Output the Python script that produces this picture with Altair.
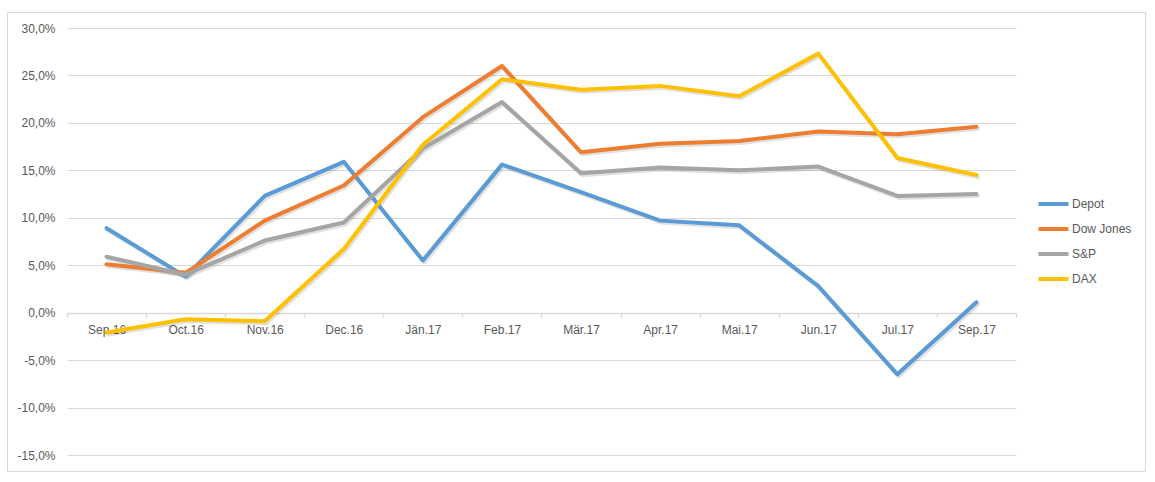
import altair as alt
import pandas as pd

months = ["Sep.16", "Oct.16", "Nov.16", "Dec.16", "Jän.17", "Feb.17",
          "Mär.17", "Apr.17", "Mai.17", "Jun.17", "Jul.17", "Sep.17"]
depot = [8.9, 3.8, 12.3, 15.9, 5.5, 15.6, 12.7, 9.7, 9.2, 2.8, -6.5, 1.1]
dow_jones = [5.1, 4.2, 9.7, 13.4, 20.6, 26.0, 16.9, 17.8, 18.1, 19.1, 18.8, 19.6]
sp = [5.9, 4.0, 7.6, 9.5, 17.3, 22.2, 14.7, 15.3, 15.0, 15.4, 12.3, 12.5]
dax = [-2.1, -0.7, -0.9, 6.7, 17.7, 24.6, 23.5, 23.9, 22.8, 27.3, 16.3, 14.5]
series_names = ["Depot", "Dow Jones", "S&P", "DAX"]
series_colors = ["#5B9BD5", "#ED7D31", "#A5A5A5", "#FFC000"]
y_ticks = [-0.15, -0.10, -0.05, 0.0, 0.05, 0.10, 0.15, 0.20, 0.25, 0.30]

rows = []
for name, vals in zip(series_names, [depot, dow_jones, sp, dax]):
    for i, (m, v) in enumerate(zip(months, vals)):
        rows.append({"series": name, "month": m, "idx": i, "value": v / 100.0})
df = pd.DataFrame(rows)

FONT = "Liberation Sans"
TXT = "#595959"
GRID = "#d9d9d9"

x_enc = alt.X(
    "month:N", sort=months, bandPosition=0.5,
    scale=alt.Scale(type="band", paddingInner=0, paddingOuter=0),
    axis=alt.Axis(title=None, offset=-142, tickBand="extent", domainColor=GRID,
                  domainWidth=1.5, tickColor=GRID, tickWidth=1.5, tickSize=4,
                  labelPadding=7, labelColor=TXT, labelFont=FONT, labelFontSize=12,
                  labelAngle=0, grid=False),
)
y_enc = alt.Y(
    "value:Q",
    scale=alt.Scale(domain=[-0.15, 0.30], nice=False, zero=False),
    axis=alt.Axis(title=None, values=y_ticks, grid=True, gridColor=GRID, gridWidth=1,
                  domain=False, ticks=False, tickSize=0, labelPadding=12,
                  labelColor=TXT, labelFont=FONT, labelFontSize=12,
                  labelExpr="replace(replace(format(datum.value, '.1%'), '.', ','), '\u2212', '-')"),
)

shadow = alt.Chart(df).mark_line(
    strokeWidth=4, color="#000000", opacity=0.12, xOffset=1.5, yOffset=2,
    strokeJoin="round", strokeCap="round"
).encode(x=x_enc, y=y_enc, detail="series:N", order="idx:Q")

lines = alt.Chart(df).mark_line(
    strokeWidth=4, strokeJoin="round", strokeCap="round"
).encode(
    x=x_enc, y=y_enc, order="idx:Q",
    color=alt.Color(
        "series:N",
        scale=alt.Scale(domain=series_names, range=series_colors),
        legend=alt.Legend(title=None, orient="none", legendX=977, legendY=166.5,
                          symbolType="M-2,0H2", symbolSize=225, symbolStrokeWidth=4,
                          labelOffset=9, rowPadding=7, labelFont=FONT,
                          labelFontSize=12, labelColor=TXT, padding=0),
    ),
)

frame = alt.Chart(pd.DataFrame({"a": [0]})).mark_rect(
    fillOpacity=0, stroke=GRID, strokeWidth=1
).encode(x=alt.value(-59.5), x2=alt.value(1078.5), y=alt.value(-15.5), y2=alt.value(443.5))

chart = alt.layer(frame, shadow, lines).properties(
    width=949, height=427,
    autosize=alt.AutoSizeParams(type="none"),
    padding={"left": 67, "top": 28, "right": 139, "bottom": 27},
    background="white",
).configure_view(strokeWidth=0)

chart.save("out.html", embed_options={"renderer": "svg", "actions": False})
